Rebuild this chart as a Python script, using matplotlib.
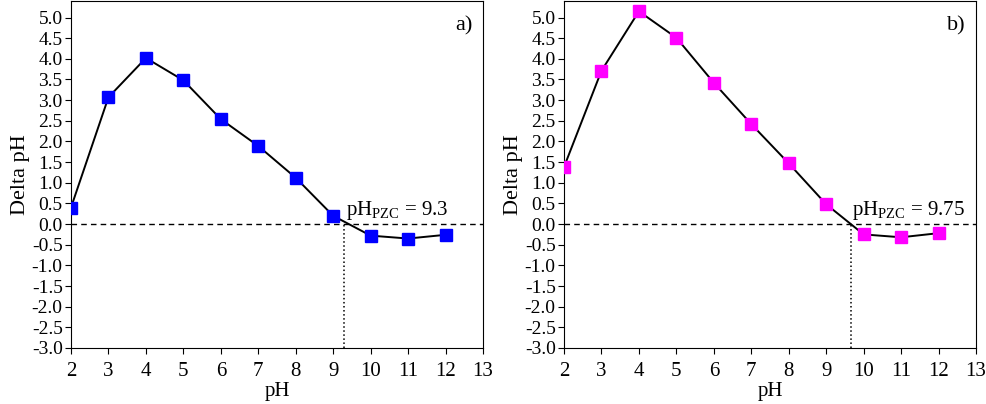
import matplotlib.pyplot as plt
import numpy as np

plt.rcParams['font.family'] = ['Liberation Serif', 'DejaVu Serif']
plt.rcParams['mathtext.fontset'] = 'custom'
plt.rcParams['mathtext.rm'] = 'Liberation Serif'

# data
ph = [2, 3, 4, 5, 6, 7, 8, 9, 10, 11, 12]
delta_a = [0.40, 3.07, 4.02, 3.48, 2.54, 1.89, 1.12, 0.20, -0.28, -0.35, -0.26]
delta_b = [1.38, 3.71, 5.15, 4.51, 3.42, 2.42, 1.47, 0.48, -0.25, -0.32, -0.22]
pzc_a, pzc_b = 9.3, 9.65
pzc_text = ["9.3", "9.75"]
panel_labels = ["a)", "b)"]
colors = ["#0000ff", "#ff00ff"]

fig = plt.figure(figsize=(9.86, 4.04), dpi=100)
ax1 = fig.add_axes([71/986, 56/404, 412/986, 347/404])
ax2 = fig.add_axes([564/986, 56/404, 412/986, 347/404])

for ax, d, pzc, txt, lab, c in zip([ax1, ax2], [delta_a, delta_b], [pzc_a, pzc_b],
                                   pzc_text, panel_labels, colors):
    ax.plot(ph, d, color='black', lw=1.4, marker='s', ms=8,
            markerfacecolor=c, markeredgecolor=c, zorder=3)
    ax.axhline(0, color='black', ls=(0, (4, 3)), lw=1.0)
    ax.plot([pzc, pzc], [-3, 0], color='black', ls=':', lw=1.1)
    ax.text(pzc + 0.05, 0.22, r'pH$_{\mathrm{PZC}}$ = ' + txt, fontsize=15)
    ax.text(0.975, 0.955, lab, transform=ax.transAxes, ha='right', va='top', fontsize=16)

    ax.set_xlim(2, 13)
    ax.set_ylim(-3, 5.4)
    ax.set_xticks(np.arange(2, 14, 1))
    ax.set_yticks(np.arange(-3, 5.01, 0.5))
    ax.set_yticklabels([f"{v:.1f}" for v in np.arange(-3, 5.01, 0.5)])
    ax.tick_params(direction='out', length=4)
    ax.tick_params(axis='y', labelsize=14, pad=2)
    ax.tick_params(axis='x', labelsize=15, pad=6)
    ax.set_xlabel('pH', fontsize=15, labelpad=1)
    ax.set_ylabel('Delta pH', fontsize=16, labelpad=1)

fig.savefig('out.png', dpi=100)
